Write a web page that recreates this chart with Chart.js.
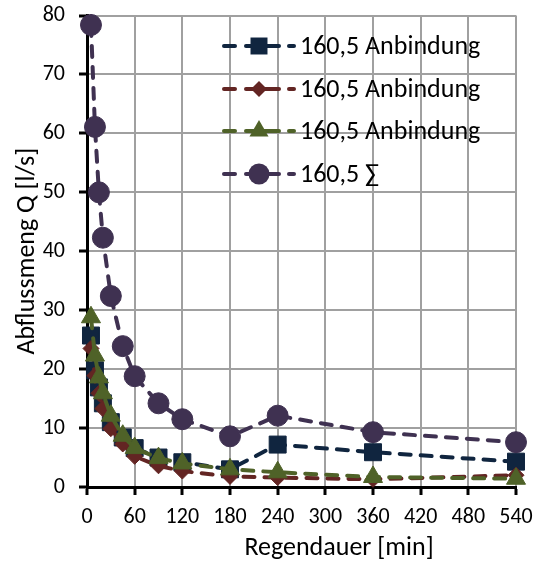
<!DOCTYPE html>
<html>
<head>
<meta charset="utf-8">
<script src="https://cdn.jsdelivr.net/npm/chart.js@4.4.1/dist/chart.umd.min.js"></script>
<style>
  html, body { margin: 0; padding: 0; background: #fff; }
  #wrap { width: 537px; height: 562px; }
</style>
</head>
<body>
<div id="wrap"><canvas id="c" width="537" height="562"></canvas></div>
<script>
// Regendauer [min]
const durations = [5, 10, 15, 20, 30, 45, 60, 90, 120, 180, 240, 360, 540];

// Abflussmenge Q [l/s]
const anbindung1 = [25.7, 19.8, 16.9, 14.2, 11.0, 8.4, 6.6, 5.0, 4.2, 3.0, 7.2, 5.9, 4.3];
const anbindung2 = [23.5, 18.9, 15.9, 13.3, 9.9, 7.3, 5.2, 3.6, 2.7, 1.8, 1.6, 1.3, 2.0];
const anbindung3 = [28.8, 22.3, 18.6, 15.9, 12.1, 8.7, 6.6, 4.9, 4.0, 3.0, 2.5, 1.7, 1.4];
const summe      = [78.4, 61.1, 50.0, 42.3, 32.4, 23.9, 18.8, 14.2, 11.5, 8.6, 12.1, 9.3, 7.6];

const seriesLabels = ['160,5 Anbindung', '160,5 Anbindung', '160,5 Anbindung', '160,5 \u2211'];

const FONT = 'Carlito, Lato, "Liberation Sans", sans-serif';
const pts = vals => vals.map((v, i) => ({ x: durations[i], y: v }));

function ds(label, vals, color, style, radius, order) {
  return {
    label, data: pts(vals),
    borderColor: color, backgroundColor: color,
    borderWidth: 4, borderDash: [11, 10], borderCapStyle: 'round',
    pointStyle: style, pointRadius: radius, pointHoverRadius: radius,
    pointBorderColor: color, pointBackgroundColor: color, pointBorderWidth: 1,
    tension: 0, clip: false, order,
  };
}

// legend sits inside the plot, x title is shifted right like the original
const legendPlugin = {
  id: 'innerLegend',
  afterDraw(chart) {
    const ctx = chart.ctx;
    const rows = [46, 89, 131, 174];
    ctx.save();
    chart.data.datasets.forEach((d, i) => {
      const y = rows[i];
      ctx.strokeStyle = d.borderColor;
      ctx.lineWidth = 4;
      ctx.lineCap = 'round';
      [[224, 235], [246, 279], [289, 294]].forEach(([a, b]) => {
        ctx.beginPath(); ctx.moveTo(a, y); ctx.lineTo(b, y); ctx.stroke();
      });
      drawMarker(ctx, d.pointStyle, 259, y, d.pointRadius, d.borderColor);
      ctx.fillStyle = '#000';
      ctx.font = '26px ' + FONT;
      ctx.textBaseline = 'middle';
      ctx.textAlign = 'left';
      ctx.fillText(d.label, 300, y + 1);
    });
    ctx.font = '26px ' + FONT;
    ctx.textAlign = 'center';
    ctx.textBaseline = 'middle';
    ctx.fillStyle = '#000';
    ctx.fillText('Regendauer [min]', 339, 548);
    ctx.restore();
  }
};

function drawMarker(ctx, style, x, y, r, color) {
  ctx.fillStyle = color;
  ctx.beginPath();
  if (style === 'rect') {
    const s = Math.SQRT1_2 * r;
    ctx.rect(x - s, y - s, 2 * s, 2 * s);
  } else if (style === 'rectRot') {
    ctx.moveTo(x, y - r); ctx.lineTo(x + r, y); ctx.lineTo(x, y + r); ctx.lineTo(x - r, y); ctx.closePath();
  } else if (style === 'triangle') {
    ctx.moveTo(x, y - r);
    ctx.lineTo(x + r * Math.sin(Math.PI * 2 / 3), y - r * Math.cos(Math.PI * 2 / 3));
    ctx.lineTo(x - r * Math.sin(Math.PI * 2 / 3), y - r * Math.cos(Math.PI * 2 / 3));
    ctx.closePath();
  } else {
    ctx.arc(x, y, r, 0, Math.PI * 2);
  }
  ctx.fill();
}

new Chart(document.getElementById('c'), {
  type: 'line',
  data: {
    datasets: [
      ds(seriesLabels[0], anbindung1, '#10253f', 'rect', 12, 4),
      ds(seriesLabels[1], anbindung2, '#632523', 'rectRot', 8, 3),
      ds(seriesLabels[2], anbindung3, '#4f6228', 'triangle', 11, 2),
      ds(seriesLabels[3], summe, '#3f3151', 'circle', 10.5, 1),
    ],
  },
  options: {
    responsive: false,
    animation: false,
    layout: { padding: { left: 0, right: 21, top: 15.5, bottom: 0 } },
    plugins: { legend: { display: false }, tooltip: { enabled: false } },
    scales: {
      x: {
        type: 'linear', min: 0, max: 540,
        afterFit: s => { s.height = 75; s.paddingLeft = 0; s.paddingRight = 0; },
        ticks: { stepSize: 60, color: '#000', padding: 9, font: { family: FONT, size: 22 }, maxRotation: 0 },
        grid: { color: '#a0a0a0', lineWidth: 2, tickColor: '#000', tickLength: 8, tickWidth: 3 },
        border: { color: '#000', width: 3 },
      },
      y: {
        min: 0, max: 80,
        afterFit: s => { s.width = 87; s.paddingTop = 0; s.paddingBottom = 0; },
        ticks: { stepSize: 10, color: '#000', padding: 14, font: { family: FONT, size: 22 } },
        grid: { color: '#a0a0a0', lineWidth: 2, tickColor: '#000', tickLength: 8, tickWidth: 3 },
        border: { color: '#000', width: 3 },
        title: { display: true, text: 'Abflussmeng Q [l/s]', color: '#000', padding: { top: 12, bottom: 0 }, font: { family: FONT, size: 26 } },
      },
    },
  },
  plugins: [legendPlugin],
});
</script>
</body>
</html>
